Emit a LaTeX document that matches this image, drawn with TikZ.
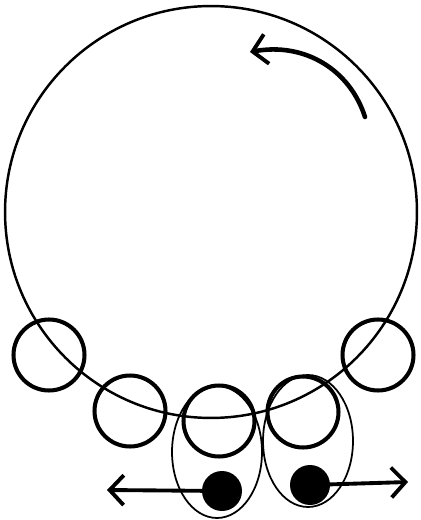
\documentclass[tikz,border=0pt]{standalone}
\usepackage{tikz}
\usetikzlibrary{arrows.meta,shapes.geometric}

\begin{document}
\begin{tikzpicture}[x=0.02cm,y=-0.02cm,
  ring/.style={draw,circle,inner sep=0pt,line width=2.3pt,minimum size=1.42cm},
  cell/.style={draw,ellipse,inner sep=0pt,line width=1pt,minimum width=1.8cm,minimum height=2.64cm},
  ball/.style={fill,circle,inner sep=0pt,minimum size=0.8cm},
  push/.style={line width=2.2pt,line cap=round,-{Straight Barb[length=8pt,width=17pt,line width=2.2pt]}}]
  \useasboundingbox (0,0) rectangle (420,520);
  \node[draw,circle,inner sep=0pt,line width=1.4pt,minimum size=8.24cm] (wheel) at (211,212) {};
  \node[ring] (r1) at (49,355) {};
  \node[ring] (r2) at (130,411) {};
  \node[ring] (r3) at (219,421) {};
  \node[ring] (r4) at (303,412) {};
  \node[ring] (r5) at (378,355) {};
  \node[cell] (lcell) at (217,452) {};
  \node[cell] (rcell) at (308,441) {};
  \coordinate (lend) at (107,490);
  \coordinate (rend) at (408,482);
  \coordinate (spinA) at (365,117);
  \coordinate (spinB) at (250,52);
  \node[ball] (lball) at (222,491) {};
  \node[ball] (rball) at (310,485) {};
  \draw[push] (lball.center) -- (lend);
  \draw[push] (rball.center) -- (rend);
  \draw[push,line width=2.6pt] (spinA) .. controls (350,70) and (305,42) .. (spinB);
\end{tikzpicture}
\end{document}
